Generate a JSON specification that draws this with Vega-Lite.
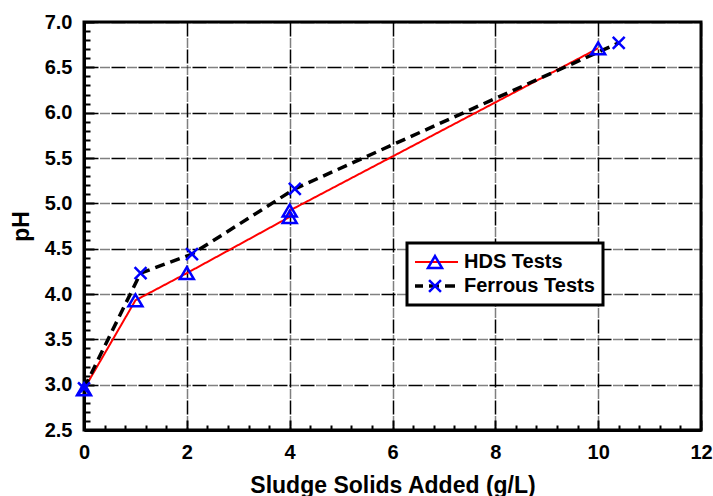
{
  "$schema": "https://vega.github.io/schema/vega-lite/v6.json",
  "width": 617,
  "height": 408,
  "autosize": "none",
  "padding": {"left": 84, "top": 22, "right": 12, "bottom": 66},
  "background": "white",
  "data": {
    "values": [
      {"series": "HDS Tests", "x": 0, "pH": 2.95},
      {"series": "HDS Tests", "x": 1.0, "pH": 3.93},
      {"series": "HDS Tests", "x": 2.0, "pH": 4.23},
      {"series": "HDS Tests", "x": 4.0, "pH": 4.85},
      {"series": "HDS Tests", "x": 4.0, "pH": 4.92},
      {"series": "HDS Tests", "x": 10.0, "pH": 6.71},
      {"series": "Ferrous Tests", "x": 0, "pH": 2.96},
      {"series": "Ferrous Tests", "x": 1.1, "pH": 4.23},
      {"series": "Ferrous Tests", "x": 2.1, "pH": 4.44},
      {"series": "Ferrous Tests", "x": 4.1, "pH": 5.16},
      {"series": "Ferrous Tests", "x": 10.4, "pH": 6.77}
    ]
  },
  "config": {
    "view": {"stroke": "black", "strokeWidth": 3},
    "axis": {
      "labelFont": "Liberation Sans",
      "labelFontWeight": "bold",
      "labelFontSize": 20,
      "labelColor": "black",
      "titleFont": "Liberation Sans",
      "titleFontWeight": "bold",
      "titleFontSize": 23,
      "titleColor": "black",
      "domainColor": "black",
      "domainWidth": 3,
      "tickColor": "black",
      "tickWidth": 2
    }
  },
  "layer": [
    {
      "mark": {"type": "line"},
      "encoding": {
        "x": {
          "field": "x",
          "type": "quantitative",
          "scale": {"domain": [0, 12], "nice": false},
          "axis": {
            "orient": "bottom",
            "values": [0, 2, 4, 6, 8, 10, 12],
            "format": "d",
            "title": "Sludge Solids Added (g/L)",
            "labelFlush": false,
            "tickSize": -10,
            "labelPadding": 22,
            "titlePadding": 12,
            "grid": true,
            "gridColor": "black",
            "gridWidth": 1.5,
            "gridDash": [14, 2, 1, 1, 1, 1, 1, 1, 1, 1, 1, 2]
          }
        },
        "y": {
          "field": "pH",
          "type": "quantitative",
          "scale": {"domain": [2.5, 7], "nice": false, "zero": false},
          "axis": {
            "orient": "left",
            "values": [2.5, 3, 3.5, 4, 4.5, 5, 5.5, 6, 6.5, 7],
            "format": ".1f",
            "title": "pH",
            "labelFlush": false,
            "tickSize": -10,
            "labelPadding": 22,
            "titlePadding": 11,
            "grid": true,
            "gridColor": "black",
            "gridWidth": 1.5,
            "gridDash": [14, 2, 1, 1, 1, 1, 1, 1, 1, 1, 1, 2]
          }
        },
        "stroke": {
          "field": "series",
          "type": "nominal",
          "sort": "descending",
          "scale": {"range": ["#ff0000", "#000000"]},
          "legend": {
            "title": null,
            "orient": "none",
            "legendX": 323,
            "legendY": 221,
            "direction": "vertical",
            "symbolType": "stroke",
            "symbolSize": 2025,
            "symbolOffset": -4,
            "clipHeight": 22,
            "rowPadding": 2,
            "padding": 8,
            "strokeColor": "black",
            "fillColor": "white",
            "labelFont": "Liberation Sans",
            "labelFontWeight": "bold",
            "labelFontSize": 20,
            "labelColor": "black",
            "labelOffset": 4,
            "zindex": 1,
            "encode": {"legend": {"update": {"strokeWidth": {"value": 3}}}}
          }
        },
        "strokeDash": {
          "field": "series",
          "type": "nominal",
          "sort": "descending",
          "scale": {"range": [[1, 0], [10, 6]]},
          "legend": {
            "title": null,
            "orient": "none",
            "legendX": 323,
            "legendY": 221,
            "symbolType": "stroke",
            "symbolSize": 2025
          }
        },
        "strokeWidth": {
          "field": "series",
          "type": "nominal",
          "sort": "descending",
          "scale": {"range": [2, 3.5]},
          "legend": {
            "title": null,
            "orient": "none",
            "legendX": 323,
            "legendY": 221,
            "symbolType": "stroke",
            "symbolSize": 2025
          }
        }
      }
    },
    {
      "mark": {"type": "point", "filled": false, "stroke": "#0000ff", "strokeWidth": 2.5, "size": 196, "opacity": 1},
      "encoding": {
        "x": {
          "field": "x",
          "type": "quantitative",
          "axis": {
            "orient": "bottom",
            "values": [0.4, 0.8, 1.2, 1.6, 2.4, 2.8, 3.2, 3.6, 4.4, 4.8, 5.2, 5.6, 6.4, 6.8, 7.2, 7.6, 8.4, 8.8, 9.2, 9.6, 10.4, 10.8, 11.2, 11.6],
            "labels": false,
            "domain": false,
            "grid": false,
            "title": null,
            "tickSize": -5
          }
        },
        "y": {
          "field": "pH",
          "type": "quantitative",
          "axis": {
            "orient": "left",
            "values": [2.6, 2.7, 2.8, 2.9, 3.1, 3.2, 3.3, 3.4, 3.6, 3.7, 3.8, 3.9, 4.1, 4.2, 4.3, 4.4, 4.6, 4.7, 4.8, 4.9, 5.1, 5.2, 5.3, 5.4, 5.6, 5.7, 5.8, 5.9, 6.1, 6.2, 6.3, 6.4, 6.6, 6.7, 6.8, 6.9],
            "labels": false,
            "domain": false,
            "grid": false,
            "title": null,
            "tickSize": -6
          }
        },
        "shape": {
          "field": "series",
          "type": "nominal",
          "scale": {
            "domain": ["HDS Tests", "Ferrous Tests"],
            "range": ["M0,-0.85L1,0.85L-1,0.85Z", "M-0.85,-0.85L0.85,0.85M-0.85,0.85L0.85,-0.85"]
          },
          "legend": {
            "title": null,
            "orient": "none",
            "legendX": 333,
            "legendY": 221,
            "direction": "vertical",
            "symbolSize": 196,
            "symbolStrokeColor": "#0000ff",
            "symbolFillColor": "transparent",
            "symbolStrokeWidth": 2.5,
            "clipHeight": 22,
            "rowPadding": 2,
            "padding": 8,
            "labelFont": "Liberation Sans",
            "labelFontWeight": "bold",
            "labelFontSize": 20,
            "labelExpr": "''",
            "zindex": 2
          }
        }
      }
    }
  ],
  "resolve": {"axis": {"x": "independent", "y": "independent"}}
}
